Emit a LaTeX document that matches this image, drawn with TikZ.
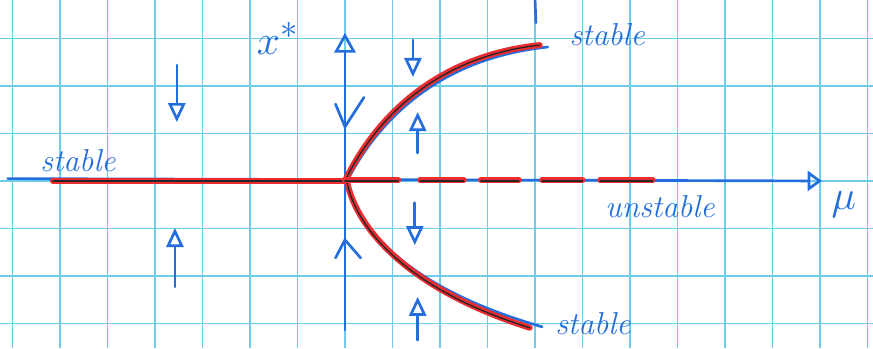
\documentclass[tikz,border=0pt]{standalone}
\usepackage{amsmath}
\usepackage{amssymb}
\usepackage{tikz}
\usetikzlibrary{arrows.meta}
\usepackage{xcolor}
\definecolor{papercyan}{RGB}{110,205,235}
\definecolor{penblue}{RGB}{35,110,220}
\definecolor{penred}{RGB}{235,45,50}

\begin{document}
\begin{tikzpicture}

    % --- Global Settings ---
    \tikzset{
        papergrid/.style={line width=0.8pt, papercyan},
        ink/.style={line width=1.6pt, penblue, line cap=round, line join=round},
        axisarrow/.style={ink, -{Triangle[open, length=4.2mm, width=4.5mm, line width=1.6pt]}},
        flowarrow/.style={ink, -{Triangle[open, length=4mm, width=3.6mm, line width=1.6pt]}},
        redpen/.style={line width=3.6pt, penred, line cap=round},
        blackpen/.style={line width=0.8pt, black!85, line cap=round, yshift=-0.5pt},
        penlabel/.style={penblue, font=\fontsize{19}{20}\selectfont\itshape, inner sep=0pt}
    }

    % --- Squared paper ---
    \useasboundingbox (-7.263,-3.52) rectangle (11.116,3.81);
    \clip (-7.263,-3.52) rectangle (11.116,3.81);
    \fill[white] (-7.263,-3.52) rectangle (11.116,3.81);
    \draw[papergrid] (-7.263,-3.52) grid (11.116,3.81);

    % --- Axes ---
    \coordinate (O) at (0,0);
    \coordinate (muStart) at (-7.1,0.05);
    \coordinate (muEnd) at (10.04,0);
    \coordinate (xStart) at (0,-3.14);
    \coordinate (xEnd) at (0,3.12);
    \draw[axisarrow, -{Triangle[open, length=3mm, width=4.2mm, line width=1.6pt]}] (muStart) -- (muEnd);
    \draw[axisarrow] (xStart) -- (xEnd);
    \draw[ink] (-0.2,1.62) -- (0,1.14) -- (0.4,1.76);
    \draw[ink] (-0.2,-1.62) -- (0,-1.24) -- (0.33,-1.62);
    \draw[ink] (4.0,3.85) -- (4.02,3.33);

    % --- Flow arrows ---
    \foreach \x/\ya/\yb in {-3.54/2.44/1.24, -3.58/-2.23/-0.99, 1.43/2.97/2.19,
                            1.53/0.59/1.45, 1.47/-0.46/-1.35, 1.53/-3.35/-2.44} {
        \draw[flowarrow] (\x,\ya) -- (\x,\yb);
    }

    % --- Branches (blue underlay) ---
    \coordinate (upEnd) at (4.1,2.86);
    \coordinate (lowEnd) at (3.89,-3.09);
    \draw[ink] (0.03,-0.03) .. controls (0.5,0.9) and (1.65,2.55) .. (4.27,2.82);
    \draw[ink] (0.03,-0.02) .. controls (0.3,-1.08) and (1.45,-2.3) .. (4.15,-3.07);

    % --- Stable branches ---
    \coordinate (leftEnd) at (-6.15,0);
    \foreach \pen in {redpen, blackpen} {
        \draw[\pen] (leftEnd) -- (O);
        \draw[\pen] (O) .. controls (0.45,0.95) and (1.6,2.6) .. (upEnd);
        \draw[\pen] (0.04,0) .. controls (0.25,-1.05) and (1.4,-2.3) .. (lowEnd);
    }

    % --- Unstable branch (dashed by hand) ---
    \foreach \a/\b in {0/1.12, 1.58/2.5, 2.86/3.66, 4.15/5.0, 5.37/6.48} {
        \draw[redpen] (\a,0.02) -- (\b,0.02);
        \draw[blackpen] (\a,0.02) -- (\b,0.02);
    }

    % --- Labels ---
    \node[penlabel] (stableLeft) at (-5.62,0.42) {stable};
    \node[penlabel] (stableTop) at (5.52,3.07) {stable};
    \node[penlabel] (stableBottom) at (5.22,-3.0) {stable};
    \node[penlabel] (unstableLbl) at (6.63,-0.55) {unstable};
    \node[penblue, font=\fontsize{30}{32}\selectfont, inner sep=0pt] (xLbl) at (-1.42,3.0) {$x^*$};
    \node[penblue, font=\fontsize{34}{36}\selectfont, inner sep=0pt] (muLbl) at (10.5,-0.5) {$\mu$};

\end{tikzpicture}
\end{document}
